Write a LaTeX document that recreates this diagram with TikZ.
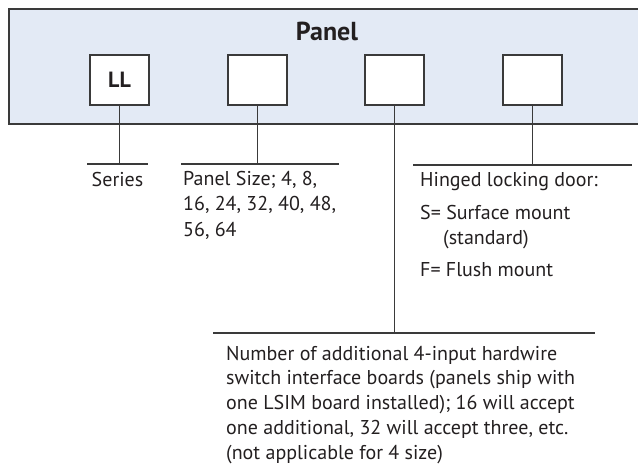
\documentclass[tikz,border=0pt]{standalone}
\usepackage{fontspec}
\setmainfont{PT Sans}
\definecolor{panelfill}{HTML}{E3EAF5}
\definecolor{ink}{HTML}{231F20}
\definecolor{wire}{HTML}{3A3A3A}

\begin{document}
\begin{tikzpicture}[x=1pt,y=-1pt]
\tikzstyle{lead}=[draw=wire, line width=1.3pt]
\tikzstyle{slot}=[draw=wire, line width=1.3pt, fill=white, minimum width=59pt, minimum height=50pt, inner sep=0pt, text=ink, font=\fontsize{22}{26}\selectfont\bfseries]
\tikzstyle{note}=[anchor=north west, inner sep=0pt, align=left, text=ink]
\useasboundingbox (0,0) rectangle (638,468);
% front panel
\path[fill=panelfill, draw=wire, line width=1.3pt] (9,9) rectangle (650,124);
\node[text=ink, font=\fontsize{26}{30}\selectfont\bfseries] (title) at (327,31) {Panel};
\node[slot] (series) at (119.5,80) {LL};
\node[slot] (size) at (257.5,80) {};
\node[slot] (boards) at (394.5,80) {};
\node[slot] (door) at (532.5,80) {};
% bars under the slots
\coordinate (seriesL) at (87,164);
\coordinate (seriesR) at (148,164);
\coordinate (sizeL) at (181,164);
\coordinate (sizeR) at (339,164);
\coordinate (boardsL) at (213,333);
\coordinate (boardsR) at (595,333);
\coordinate (doorL) at (413,165);
\coordinate (doorR) at (632,165);
\draw[lead] (seriesL) -- (seriesR);
\draw[lead] (sizeL) -- (sizeR);
\draw[lead] (boardsL) -- (boardsR);
\draw[lead] (doorL) -- (doorR);
\draw[lead] (series.south) -- (series.south |- seriesL);
\draw[lead] (size.south) -- (size.south |- sizeL);
\draw[lead] (boards.south) -- (boards.south |- boardsL);
\draw[lead] (door.south) -- (door.south |- doorL);
% labels
\node[anchor=base, inner sep=0pt, text=ink, font=\fontsize{20}{24}\selectfont] (serieslabel) at (117.5,187) {Series};
\node[note, font=\fontsize{20}{25.5}\selectfont] (sizelabel) at (183,167.2)
    {\strut Panel Size; 4, 8,\\16, 24, 32, 40, 48,\\56, 64};
\node[note, font=\fontsize{20}{25}\selectfont] (doorlabel) at (420,168.5)
    {\strut Hinged locking door:\\[8pt]S= Surface mount\\\hspace*{23pt}(standard)\\[7pt]F= Flush mount};
\node[note, font=\fontsize{20}{24.75}\selectfont] (boardslabel) at (226,342.7)
    {\strut Number of additional 4-input hardwire\\switch interface boards (panels ship with\\one LSIM board installed); 16 will accept\\one additional, 32 will accept three, etc.\\(not applicable for 4 size)};
\end{tikzpicture}
\end{document}
